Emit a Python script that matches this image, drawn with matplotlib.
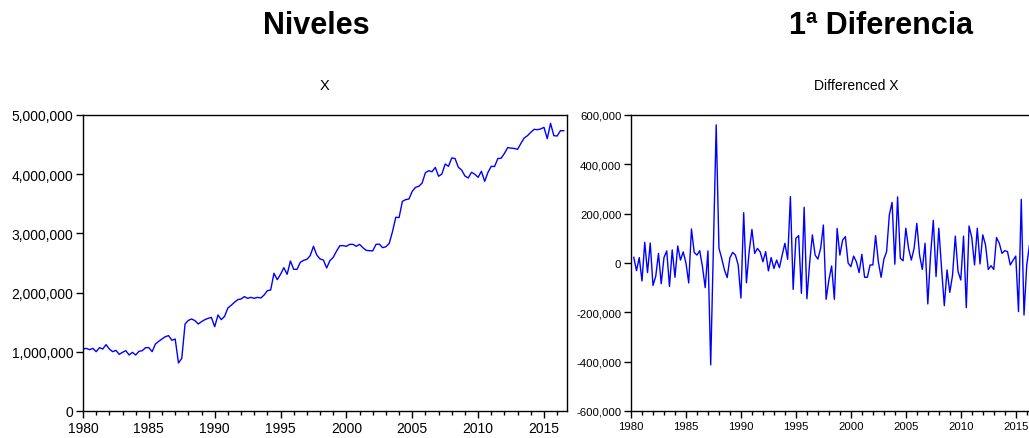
import matplotlib
matplotlib.use("Agg")
import matplotlib.pyplot as plt
import numpy as np
import pandas as pd
from matplotlib.ticker import FuncFormatter, MultipleLocator

# Quarterly series, 1980Q1 - 2016Q3 (values in thousands)
x_levels = [
    1047, 1058, 1036, 1058, 1002, 1070, 1047, 1121, 1047, 1002,
    1024, 957, 991, 1019, 946, 991, 946, 1008, 1019, 1070,
    1070, 1002, 1132, 1177, 1216, 1256, 1273, 1194, 1216, 811,
    889, 1470, 1531, 1554, 1526, 1470, 1509, 1543, 1565, 1580,
    1424, 1622, 1543, 1599, 1740, 1785, 1836, 1881, 1892, 1932,
    1903, 1920, 1903, 1920, 1909, 1959, 2033, 2044, 2326, 2219,
    2309, 2421, 2309, 2534, 2393, 2393, 2511, 2545, 2562, 2624,
    2782, 2635, 2568, 2551, 2416, 2540, 2596, 2700, 2793, 2793,
    2782, 2815, 2815, 2782, 2815, 2759, 2714, 2708, 2705, 2815,
    2818, 2759, 2775, 2830, 3030, 3272, 3268, 3542, 3570, 3581,
    3711, 3778, 3795, 3851, 4025, 4059, 4042, 4115, 3965, 4003,
    4172, 4133, 4274, 4265, 4117, 4070, 3970, 3936, 4032, 4000,
    3947, 4049, 3880, 4032, 4133, 4130, 4265, 4270, 4352, 4450,
    4440, 4435, 4420, 4521, 4611, 4651, 4707, 4758, 4752, 4764,
    4792, 4600, 4859, 4651, 4645, 4735, 4735,
]

# First difference, 1980Q2 - 2016Q3 (thousands)
x_diff = [
    23, -31, 22, -73, 84, -39, 81, -91, -54, 39,
    -84, 22, 49, -95, 53, -58, 69, 12, 45, 0,
    -81, 138, 43, 32, 50, -15, -100, 49, -413, 80,
    560, 60, 19, -28, -59, 22, 43, 32, -8, -142,
    204, -80, 46, 136, 39, 59, 45, 5, 46, -32,
    22, -22, 12, -19, 32, 80, 15, 269, -107, 100,
    111, -123, 226, -145, 0, 114, 32, 16, 59, 154,
    -147, -69, -12, -147, 140, 32, 93, 107, 0, -15,
    28, 5, -39, 35, -58, -58, -8, -8, 111, 5,
    -58, 15, 46, 195, 246, -5, 268, 19, 9, 141,
    59, 12, 59, 161, 32, -26, 80, -166, 32, 173,
    -55, 141, -22, -173, -28, -119, -49, 109, -35, -69,
    109, -181, 150, 103, -8, 141, -4, 114, 73, -26,
    -11, -26, 103, 80, 39, 50, 46, -8, 11, 28,
    -197, 258, -211, -8, 73, 0,
]

quarters = pd.period_range("1980Q1", periods=len(x_levels), freq="Q")
t = quarters.year + (quarters.quarter - 1) / 4.0

levels = np.array(x_levels) * 1000
diffs = np.array(x_diff) * 1000

W, H = 1029, 439
fig = plt.figure(figsize=(W / 100, H / 100), dpi=100)
plt.rcParams["font.family"] = ["Liberation Sans", "DejaVu Sans"]

thousands = FuncFormatter(lambda v, pos: f"{v:,.0f}")


def style_axes(ax, labelsize):
    for sp in ax.spines.values():
        sp.set_color("black")
        sp.set_linewidth(1.0)
    ax.xaxis.set_major_locator(MultipleLocator(5))
    ax.xaxis.set_minor_locator(MultipleLocator(1))
    ax.yaxis.set_major_formatter(thousands)
    ax.tick_params(axis="both", which="major", direction="out", length=5,
                   width=1, labelsize=labelsize, pad=2, top=False, right=False)
    ax.tick_params(axis="both", which="minor", direction="out", length=3,
                   width=1, top=False, right=False)
    ax.tick_params(axis="y", which="minor", left=False)


# Levels
ax1 = fig.add_axes([83 / W, 1 - 412 / H, (567 - 83) / W, 296 / H])
ax1.plot(t, levels, color="#0000FF", linewidth=1.0)
ax1.set_xlim(1980, 2016.75)
ax1.set_ylim(0, 5000000)
ax1.yaxis.set_major_locator(MultipleLocator(1000000))
style_axes(ax1, 10)

# First difference (the axes runs past the right edge of the figure)
ax2 = fig.add_axes([631 / W, 1 - 412 / H, (1035 - 631) / W, 296 / H])
ax2.plot(t[1:], diffs, color="#0000FF", linewidth=1.0)
ax2.set_xlim(1980, 2016.75)
ax2.set_ylim(-600000, 600000)
ax2.yaxis.set_major_locator(MultipleLocator(200000))
style_axes(ax2, 8.2)

# Headings
fig.text(316 / W, 1 - 26 / H, "Niveles", ha="center", va="center",
         fontsize=22, fontweight="bold")
fig.text(881 / W, 1 - 26 / H, "1ª Diferencia", ha="center", va="center",
         fontsize=22, fontweight="bold")

narrow = ["Liberation Sans Narrow", "Liberation Sans", "DejaVu Sans"]
fig.text(325 / W, 1 - 86 / H, "X", ha="center", va="center",
         fontsize=10.5, family=narrow)
fig.text(856 / W, 1 - 86 / H, "Differenced X", ha="center", va="center",
         fontsize=10, family=narrow)

fig.savefig("out.png", dpi=100)
